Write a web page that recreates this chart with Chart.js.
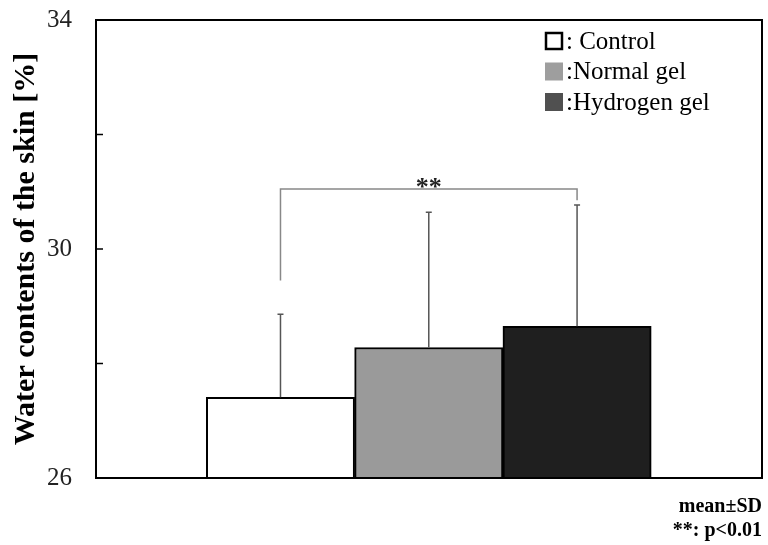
<!DOCTYPE html>
<html>
<head>
  <title>Water contents of the skin</title>
  <script src="https://cdn.jsdelivr.net/npm/chart.js"></script>
  <style>
    body { margin: 0; background: #fff; }
    #wrap { width: 768px; height: 545px; position: relative; }
  </style>
</head>
<body>
  <div id="wrap"><canvas id="skinChart"></canvas></div>

  <script>
    // values
    const groups = ['Control', 'Normal gel', 'Hydrogen gel'];
    const legendLabels = [': Control', ':Normal gel', ':Hydrogen gel'];
    const means = [27.41, 28.28, 28.65];
    const sdUpper = [1.45, 2.36, 2.12];
    const barColors = ['#ffffff', '#9a9a9a', '#1f1f1f'];
    const legendColors = ['#ffffff', '#9e9e9e', '#505050'];
    const yTicks = [26, 30, 34];
    // significance bracket between Control and Hydrogen gel
    const sigPair = [0, 2];
    const sigLevel = 31.05;
    const sigLegs = [29.45, 30.85];
    const sigText = '**';
    const footNotes = ['mean\u00b1SD', '**: p<0.01'];

    const serif = '"Liberation Serif", "Times New Roman", serif';

    const extras = {
      id: 'extras',
      afterDatasetsDraw(chart) {
        const ctx = chart.ctx;
        const y = chart.scales.y;
        const bars = chart.getDatasetMeta(0).data;

        // error bars (upper only)
        ctx.save();
        ctx.strokeStyle = '#555';
        ctx.lineWidth = 1.5;
        bars.forEach((bar, i) => {
          const top = y.getPixelForValue(means[i] + sdUpper[i]);
          ctx.beginPath();
          ctx.moveTo(bar.x, bar.y);
          ctx.lineTo(bar.x, top);
          ctx.moveTo(bar.x - 3, top);
          ctx.lineTo(bar.x + 3, top);
          ctx.stroke();
        });

        // bracket
        const x1 = bars[sigPair[0]].x, x2 = bars[sigPair[1]].x;
        const yb = y.getPixelForValue(sigLevel);
        ctx.strokeStyle = '#888';
        ctx.beginPath();
        ctx.moveTo(x1, y.getPixelForValue(sigLegs[0]));
        ctx.lineTo(x1, yb);
        ctx.lineTo(x2, yb);
        ctx.lineTo(x2, y.getPixelForValue(sigLegs[1]));
        ctx.stroke();
        ctx.fillStyle = '#222';
        ctx.font = 'bold 26px ' + serif;
        ctx.textAlign = 'center';
        ctx.textBaseline = 'alphabetic';
        ctx.fillText(sigText, (x1 + x2) / 2, yb + 6);
        ctx.restore();
      },
      afterDraw(chart) {
        const ctx = chart.ctx;
        const a = chart.chartArea;
        const y = chart.scales.y;
        ctx.save();
        // inward ticks on the left axis
        ctx.strokeStyle = '#000';
        ctx.lineWidth = 1.5;
        y.ticks.forEach(t => {
          const py = y.getPixelForValue(t.value);
          ctx.beginPath();
          ctx.moveTo(a.left, py);
          ctx.lineTo(a.left + 7, py);
          ctx.stroke();
        });
        // frame
        ctx.lineWidth = 2;
        ctx.strokeRect(a.left, a.top, a.right - a.left, a.bottom - a.top);

        // legend
        const lx = a.right - 217;
        ctx.font = '25px ' + serif;
        ctx.textBaseline = 'middle';
        ctx.textAlign = 'left';
        groups.forEach((g, i) => {
          const ty = a.top + 12 + i * 30.5;
          ctx.fillStyle = legendColors[i];
          ctx.fillRect(lx, ty, 18, 18);
          if (i === 0) {
            ctx.lineWidth = 2.5;
            ctx.strokeStyle = '#000';
            ctx.strokeRect(lx + 1, ty + 1, 16, 16);
          }
          ctx.fillStyle = '#000';
          ctx.fillText(legendLabels[i], lx + 21, ty + 10);
        });
        ctx.restore();
      }
    };

    new Chart(document.getElementById('skinChart'), {
      type: 'bar',
      data: {
        datasets: [{
          data: groups.map((g, i) => ({ x: i + 1, y: means[i] })),
          backgroundColor: barColors,
          borderColor: '#000',
          borderWidth: 2,
          categoryPercentage: 1,
          barPercentage: 1
        }]
      },
      options: {
        responsive: true,
        maintainAspectRatio: false,
        animation: false,
        layout: { padding: { top: 20, right: 6, left: 0, bottom: 0 } },
        plugins: {
          legend: { display: false },
          tooltip: { enabled: false },
          title: {
            display: true,
            position: 'bottom',
            align: 'end',
            text: footNotes,
            color: '#000',
            font: { family: serif, size: 20, weight: 'bold', lineHeight: 1.2 },
            padding: { top: 17, bottom: 2 }
          }
        },
        scales: {
          x: {
            type: 'linear',
            min: -0.244,
            max: 4.247,
            offset: false,
            display: false,
            afterBuildTicks(scale) {
              scale.ticks = groups.map((g, i) => ({ value: i + 1 }));
            }
          },
          y: {
            min: 26,
            max: 34,
            afterFit(scale) {
              scale.width = 96;
              scale.paddingTop = 0;
              scale.paddingBottom = 0;
            },
            grid: { display: false },
            border: { display: false },
            ticks: {
              stepSize: 2,
              padding: 16,
              color: '#222',
              font: { family: serif, size: 25 },
              callback: v => yTicks.includes(v) ? String(v) : ''
            },
            title: {
              display: true,
              text: 'Water contents of the skin [%]',
              color: '#000',
              font: { family: serif, size: 30, weight: 'bold' },
              padding: { top: 8, bottom: 0 }
            }
          }
        }
      },
      plugins: [extras]
    });
  </script>
</body>
</html>
